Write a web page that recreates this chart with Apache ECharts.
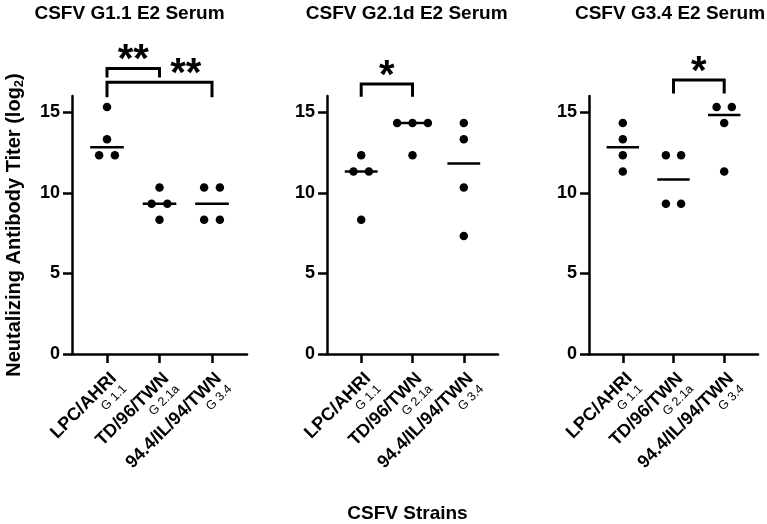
<!DOCTYPE html>
<html><head><meta charset="utf-8">
<script src="https://cdn.jsdelivr.net/npm/echarts@6/dist/echarts.min.js"></script>
<style>html,body{margin:0;padding:0;background:#fff}#c{width:767px;height:524px}</style>
</head><body><div id="c"></div>
<script>
// ---- data ----
const strains = ['LPC/AHRI', 'TD/96/TWN', '94.4/IL/94/TWN'];
const genotypes = ['G 1.1', 'G 2.1a', 'G 3.4'];
const panelTitles = ['CSFV G1.1 E2 Serum', 'CSFV G2.1d E2 Serum', 'CSFV G3.4 E2 Serum'];
const yTicks = [0, 5, 10, 15];
const xTicks = [1, 2, 3];
// log2 titers, one array per strain
const g11Serum = [[15.32, 13.32, 12.32, 12.32], [10.32, 9.32, 9.32, 8.32], [10.32, 10.32, 8.32, 8.32]];
const g21dSerum = [[12.32, 11.32, 11.32, 8.32], [14.32, 14.32, 14.32, 12.32], [14.32, 13.32, 10.32, 7.32]];
const g34Serum = [[14.32, 13.32, 12.32, 11.32], [12.32, 12.32, 9.32, 9.32], [15.32, 15.32, 14.32, 11.32]];
// significance comparisons (strain index 1-based)
const g11Sig = [{ from: 1, to: 2, label: '**' }, { from: 1, to: 3, label: '**' }];
const g21dSig = [{ from: 1, to: 2, label: '*' }];
const g34Sig = [{ from: 2, to: 3, label: '*' }];

// ---- layout ----
const FONT = '"Liberation Sans", Arial, sans-serif';
const bracketLayout = [
  [{ top: 17.71, leg: 17.14, labelX: 1.5 }, { top: 16.85, leg: 15.92, labelX: 2.5 }],
  [{ top: 16.75, leg: 15.95, labelX: 1.5 }],
  [{ top: 17.0, leg: 16.15, labelX: 2.5 }]
];
const panelData = [g11Serum, g21dSerum, g34Serum];
const panelSig = [g11Sig, g21dSig, g34Sig];
const gridLeft = [72, 327, 589];
const gridWidth = [175, 171, 169];
const titleX = [129.5, 406.7, 670];
const GRID_TOP = 96, GRID_H = 258;
const JITTER = 0.3, HALF = 0.32;

function median(a) {
  const s = a.slice().sort((x, y) => x - y);
  const n = s.length;
  return n % 2 ? s[(n - 1) / 2] : (s[n / 2 - 1] + s[n / 2]) / 2;
}
function jittered(values, xc) {
  const counts = {};
  values.forEach(v => counts[v] = (counts[v] || 0) + 1);
  const used = {};
  return values.map(v => {
    const n = counts[v];
    const i = used[v] || 0; used[v] = i + 1;
    return [xc + (i - (n - 1) / 2) * JITTER, v];
  });
}

const grids = [], xAxes = [], yAxes = [], series = [];
panelData.forEach((groups, p) => {
  grids.push({ left: gridLeft[p], width: gridWidth[p], top: GRID_TOP, height: GRID_H });
  xAxes.push({
    gridIndex: p, type: 'value', min: 1 / 3, max: 11 / 3,
    axisLine: { show: true, lineStyle: { color: '#000', width: 2.5 } },
    axisTick: { show: true, customValues: xTicks, length: 9, lineStyle: { color: '#000', width: 2.5 } },
    splitLine: { show: false },
    axisLabel: {
      customValues: xTicks, rotate: 45, margin: 15, color: '#000', verticalAlign: 'top',
      formatter: v => '{b|' + strains[Math.round(v) - 1] + '}\n{s|' + genotypes[Math.round(v) - 1] + '}',
      rich: {
        b: { fontFamily: FONT, fontWeight: 'bold', fontSize: 18, lineHeight: 19, color: '#000', align: 'right' },
        s: { fontFamily: FONT, fontSize: 12.5, lineHeight: 13, color: '#000', align: 'right' }
      }
    }
  });
  const ya = {
    gridIndex: p, type: 'value', min: 0, max: 16, interval: 5,
    axisLine: { show: true, lineStyle: { color: '#000', width: 2.5 } },
    axisTick: { show: true, customValues: yTicks, length: 9, lineStyle: { color: '#000', width: 2.5 } },
    splitLine: { show: false },
    axisLabel: { customValues: yTicks, margin: 12, color: '#000', fontFamily: FONT, fontWeight: 'bold', fontSize: 18 }
  };
  if (p === 0) {
    ya.name = '{a|Neutalizing Antibody Titer (log}{s|2}{a|)}';
    ya.nameLocation = 'middle';
    ya.nameGap = 46;
    ya.nameTextStyle = {
      rich: {
        a: { fontFamily: FONT, fontWeight: 'bold', fontSize: 20, lineHeight: 24, color: '#000' },
        s: { fontFamily: FONT, fontWeight: 'bold', fontSize: 13, color: '#000', verticalAlign: 'bottom' }
      }
    };
  }
  yAxes.push(ya);

  // dots
  const pts = [];
  groups.forEach((vals, g) => jittered(vals, xTicks[g]).forEach(d => pts.push(d)));
  series.push({
    type: 'scatter', xAxisIndex: p, yAxisIndex: p, data: pts, symbolSize: 8.5,
    itemStyle: { color: '#000', opacity: 1 }, z: 3
  });
  // median lines
  series.push({
    type: 'custom', xAxisIndex: p, yAxisIndex: p, clip: false,
    data: groups.map((vals, g) => [xTicks[g], median(vals)]),
    renderItem: (params, api) => {
      const x = api.value(0), m = api.value(1);
      const a = api.coord([x - HALF, m]), b = api.coord([x + HALF, m]);
      return { type: 'line', shape: { x1: a[0], y1: a[1], x2: b[0], y2: b[1] }, style: { stroke: '#000', lineWidth: 2.5 } };
    }, z: 2
  });
  // brackets
  const sigs = panelSig[p];
  series.push({
    type: 'custom', xAxisIndex: p, yAxisIndex: p, clip: false,
    data: sigs.map((s, i) => [s.from, s.to, bracketLayout[p][i].top, bracketLayout[p][i].leg, bracketLayout[p][i].labelX]),
    renderItem: (params, api) => {
      const f = api.value(0), t = api.value(1), top = api.value(2), leg = api.value(3), lx = api.value(4);
      const pts = [api.coord([f, leg]), api.coord([f, top]), api.coord([t, top]), api.coord([t, leg])];
      const pl = api.coord([lx, top]);
      return {
        type: 'group', children: [
          { type: 'polyline', shape: { points: pts }, style: { stroke: '#000', lineWidth: 3, fill: null, lineJoin: 'miter' } },
          { type: 'text', x: pl[0], y: pl[1] - 7, style: { text: sigs[params.dataIndex].label, font: 'bold 40px ' + FONT, textAlign: 'center', textVerticalAlign: 'middle', fill: '#000' } }
        ]
      };
    }, z: 2
  });
});

const graphics = panelTitles.map((t, i) => ({
  type: 'text', x: titleX[i], y: 14,
  style: { text: t, font: 'bold 19px ' + FONT, textAlign: 'center', textVerticalAlign: 'middle', fill: '#000' }
}));
graphics.push({
  type: 'text', x: 407.5, y: 514,
  style: { text: 'CSFV Strains', font: 'bold 19px ' + FONT, textAlign: 'center', textVerticalAlign: 'middle', fill: '#000' }
});

const chart = echarts.init(document.getElementById('c'));
chart.setOption({
  animation: false,
  backgroundColor: '#fff',
  grid: grids, xAxis: xAxes, yAxis: yAxes, series: series,
  graphic: graphics
});
</script></body></html>
